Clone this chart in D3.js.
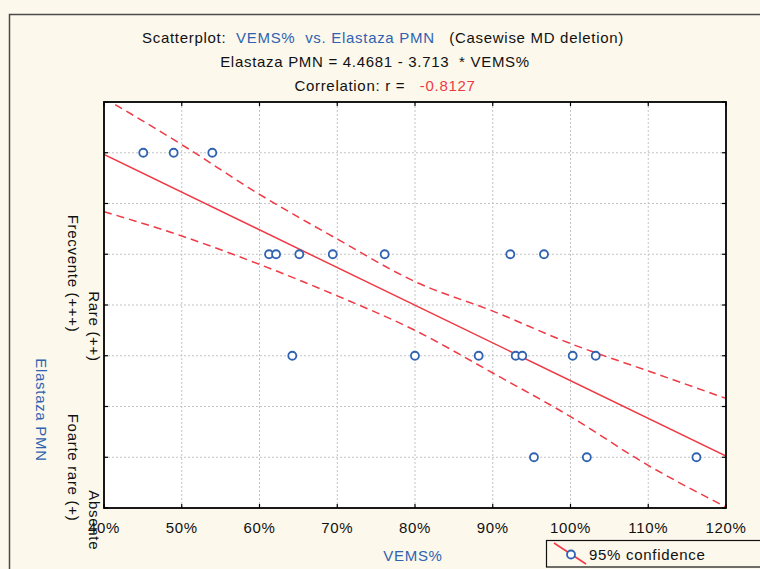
<!DOCTYPE html>
<html>
<head>
<meta charset="utf-8">
<script src="https://cdn.jsdelivr.net/npm/d3@7"></script>
<style>
  html, body { margin: 0; padding: 0; background: #fcf8ec; }
  svg { display: block; }
  text { font-family: "Liberation Sans Narrow", "Arial Narrow", "Liberation Sans", sans-serif; }
</style>
</head>
<body>
<script>
// Data
const vems = [0.4505, 0.4896, 0.5393,
  0.6123, 0.6213, 0.6512, 0.6942, 0.7610, 0.9226, 0.9659,
  0.6422, 0.7999, 0.8819, 0.9295, 0.9380, 1.0028, 1.0324,
  0.9530, 1.0210, 1.1620];
const elastaza = [3, 3, 3,
  2, 2, 2, 2, 2, 2, 2,
  1, 1, 1, 1, 1, 1, 1,
  0, 0, 0];

// regression from the title
const intercept = 4.4681;
const slope = -3.713;

// 95% confidence band, read at every x tick
const bandX = [0.4, 0.5, 0.6, 0.7, 0.8, 0.9, 1.0, 1.1, 1.2];
const bandUpper = [3.54, 3.08, 2.59, 2.15, 1.73, 1.44, 1.12, 0.85, 0.58];
const bandLower = [2.42, 2.18, 1.90, 1.59, 1.25, 0.83, 0.40, -0.08, -0.49];

const xTicks = [0.4, 0.5, 0.6, 0.7, 0.8, 0.9, 1.0, 1.1, 1.2];
const yTicks = [-0.5, 0, 0.5, 1, 1.5, 2, 2.5, 3, 3.5];
const yLevels = [3, 2, 1, 0];
const yLabels = ["Frecvente (+++)", "Rare (++)", "Foarte rare (+)", "Absente"];

const W = 760, H = 569;
const m = { left: 104, top: 102, right: 34, bottom: 61 };
const pw = W - m.left - m.right, ph = H - m.top - m.bottom;

const blue = "#2f62b0", red = "#ef3a45";
const ls = 0.7;

const svg = d3.select("body").append("svg")
  .attr("width", W).attr("height", H);

svg.append("rect").attr("width", W).attr("height", H).attr("fill", "#fcf8ec");

// outer frame
svg.append("path")
  .attr("d", `M9.5,${H + 2}V14.5H${W + 2}`)
  .attr("fill", "none").attr("stroke", "#4a4a4a").attr("stroke-width", 1.5);

const x = d3.scaleLinear().domain([0.4, 1.2]).range([0, pw]);
const y = d3.scaleLinear().domain([-0.5, 3.5]).range([ph, 0]);

const g = svg.append("g").attr("transform", `translate(${m.left},${m.top})`);

g.append("defs").append("clipPath").attr("id", "clip")
  .append("rect").attr("width", pw).attr("height", ph);

g.append("rect").attr("width", pw).attr("height", ph).attr("fill", "#fff");

// grid
g.append("g").selectAll("line").data(xTicks.slice(1, -1)).join("line")
  .attr("x1", d => x(d)).attr("x2", d => x(d))
  .attr("y1", 0).attr("y2", ph)
  .attr("stroke", "#c4c4c4").attr("stroke-dasharray", "2,2");
g.append("g").selectAll("line").data(yTicks.slice(1, -1)).join("line")
  .attr("y1", d => y(d)).attr("y2", d => y(d))
  .attr("x1", 0).attr("x2", pw)
  .attr("stroke", "#c4c4c4").attr("stroke-dasharray", "2,2");

// ticks inside on all four sides
const tickLen = 4;
const ticks = g.append("g").attr("stroke", "#000").attr("stroke-width", 1.2);
xTicks.forEach(t => {
  ticks.append("line").attr("x1", x(t)).attr("x2", x(t)).attr("y1", ph).attr("y2", ph - tickLen);
  ticks.append("line").attr("x1", x(t)).attr("x2", x(t)).attr("y1", 0).attr("y2", tickLen);
});
yTicks.forEach(t => {
  ticks.append("line").attr("y1", y(t)).attr("y2", y(t)).attr("x1", 0).attr("x2", tickLen);
  ticks.append("line").attr("y1", y(t)).attr("y2", y(t)).attr("x1", pw).attr("x2", pw - tickLen);
});

// confidence band
const band = d3.line().x(d => x(d[0])).y(d => y(d[1])).curve(d3.curveMonotoneX);
const lines = g.append("g").attr("clip-path", "url(#clip)");
[bandUpper, bandLower].forEach(arr => {
  lines.append("path")
    .datum(bandX.map((v, i) => [v, arr[i]]))
    .attr("d", band)
    .attr("fill", "none").attr("stroke", red).attr("stroke-width", 1.5)
    .attr("stroke-dasharray", "8,5");
});

// regression line
lines.append("line")
  .attr("x1", x(0.4)).attr("y1", y(intercept + slope * 0.4))
  .attr("x2", x(1.2)).attr("y2", y(intercept + slope * 1.2))
  .attr("stroke", red).attr("stroke-width", 1.5);

// points
g.append("g").selectAll("circle").data(vems).join("circle")
  .attr("cx", d => x(d)).attr("cy", (d, i) => y(elastaza[i]))
  .attr("r", 4)
  .attr("fill", "#fff").attr("stroke", blue).attr("stroke-width", 1.8);

// frame
g.append("rect").attr("width", pw).attr("height", ph)
  .attr("fill", "none").attr("stroke", "#000").attr("stroke-width", 1.8);

// x tick labels
g.append("g").selectAll("text").data(xTicks).join("text")
  .attr("x", d => x(d)).attr("y", ph + 25)
  .attr("text-anchor", "middle")
  .attr("font-size", 15).attr("letter-spacing", ls)
  .attr("fill", "#111")
  .text(d3.format(".0%"));

// y tick labels, rotated and staggered in two columns
const yLab = [
  { col: 68, off: 62 },
  { col: 89, off: 37 },
  { col: 68, off: 58 },
  { col: 89, off: 33 }
];
yLevels.forEach((v, i) => {
  svg.append("text")
    .attr("transform", `translate(${yLab[i].col},${m.top + y(v) + yLab[i].off}) rotate(90)`)
    .attr("font-size", 15).attr("letter-spacing", ls)
    .attr("fill", "#111")
    .text(yLabels[i]);
});

// axis titles
svg.append("text")
  .attr("x", 413).attr("y", 561)
  .attr("text-anchor", "middle")
  .attr("font-size", 15).attr("letter-spacing", ls)
  .attr("fill", blue).text("VEMS%");
svg.append("text")
  .attr("transform", "translate(36,410) rotate(90)")
  .attr("text-anchor", "middle")
  .attr("font-size", 15).attr("letter-spacing", ls)
  .attr("fill", blue).text("Elastaza PMN");

// titles
const t1 = svg.append("text").attr("x", 383).attr("y", 43)
  .attr("text-anchor", "middle").attr("font-size", 15).attr("letter-spacing", ls)
  .attr("xml:space", "preserve").attr("fill", "#111");
t1.append("tspan").text("Scatterplot:  ");
t1.append("tspan").attr("fill", blue).text("VEMS%  vs. Elastaza PMN");
t1.append("tspan").text("   (Casewise MD deletion)");

svg.append("text").attr("x", 375).attr("y", 67)
  .attr("text-anchor", "middle").attr("font-size", 15).attr("letter-spacing", ls)
  .attr("xml:space", "preserve").attr("fill", "#111")
  .text(`Elastaza PMN = ${intercept} - ${-slope}  * VEMS%`);

const t3 = svg.append("text").attr("x", 385).attr("y", 91)
  .attr("text-anchor", "middle").attr("font-size", 15).attr("letter-spacing", ls)
  .attr("xml:space", "preserve").attr("fill", "#111");
t3.append("tspan").text("Correlation: r =   ");
t3.append("tspan").attr("fill", red).text("-0.8127");

// legend
const lg = svg.append("g");
lg.append("rect").attr("x", 546.5).attr("y", 540.5).attr("width", 230).attr("height", 26.5)
  .attr("fill", "#fcf8ec").attr("stroke", "#111").attr("stroke-width", 1.2);
lg.append("line").attr("x1", 554).attr("y1", 543).attr("x2", 586).attr("y2", 564)
  .attr("stroke", red).attr("stroke-width", 1.5);
lg.append("circle").attr("cx", 571).attr("cy", 554.5).attr("r", 4)
  .attr("fill", "#fff").attr("stroke", blue).attr("stroke-width", 1.8);
lg.append("text").attr("x", 589).attr("y", 560)
  .attr("font-size", 15).attr("letter-spacing", ls)
  .attr("fill", "#111").text("95% confidence");
</script>
</body>
</html>
